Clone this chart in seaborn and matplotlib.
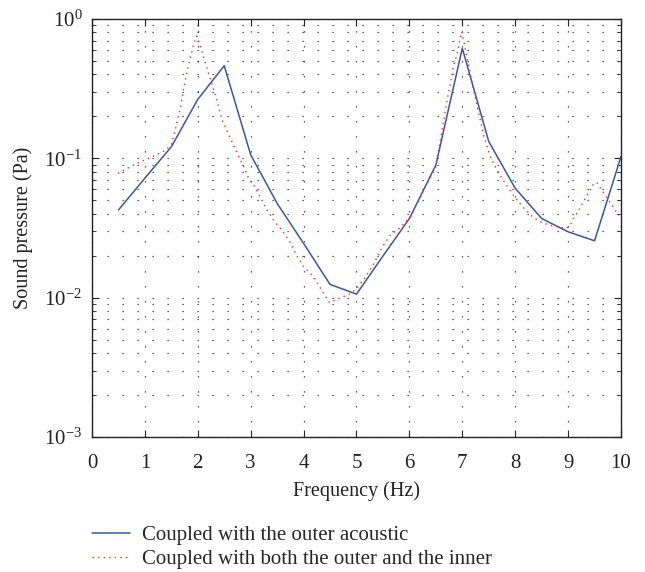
import numpy as np
import pandas as pd
import seaborn as sns
import matplotlib
matplotlib.use("Agg")
from matplotlib import pyplot as plt
from matplotlib.ticker import LogLocator, LogFormatterMathtext, NullFormatter

# data
freq_outer = [0.5, 1.0, 1.5, 2.0, 2.5, 3.0, 3.5, 4.0, 4.5, 5.0,
              5.5, 6.0, 6.5, 7.0, 7.5, 8.0, 8.5, 9.0, 9.5, 10.0]
sp_outer = [0.0426, 0.072, 0.121, 0.265, 0.462, 0.106, 0.0475, 0.0245, 0.01245, 0.0106,
            0.0199, 0.037, 0.0895, 0.616, 0.132, 0.061, 0.037, 0.0297, 0.0256, 0.103]

freq_both = [0.49, 0.82, 1.17, 1.40, 1.50, 1.58, 1.67, 1.73, 1.79, 1.86, 1.93, 1.98,
             2.03, 2.10, 2.14, 2.20, 2.29, 2.36, 2.46, 2.56, 2.66, 2.77, 2.87, 2.96,
             3.06, 3.31, 3.43, 3.59, 3.74, 3.88, 4.00, 4.16, 4.29, 4.38, 4.49, 4.60,
             4.73, 4.89, 5.01, 5.17, 5.33, 5.49, 5.64, 5.83, 6.02, 6.21, 6.37, 6.50,
             6.59, 6.65, 6.72, 6.78, 6.84, 6.91, 6.96, 6.99, 7.03, 7.08, 7.15, 7.22,
             7.29, 7.35, 7.41, 7.48, 7.54, 7.66, 7.79, 7.92, 8.04, 8.17, 8.33, 8.48,
             8.64, 8.80, 8.96, 9.04, 9.10, 9.17, 9.23, 9.29, 9.36, 9.42, 9.48, 9.54,
             9.61, 9.68, 9.75, 9.82, 9.89, 9.96]
sp_both = [0.078, 0.091, 0.104, 0.115, 0.125, 0.164, 0.229, 0.31, 0.41, 0.53, 0.67, 0.755,
           0.67, 0.55, 0.49, 0.41, 0.32, 0.26, 0.188, 0.155, 0.128, 0.104, 0.087, 0.072,
           0.064, 0.0426, 0.036, 0.0305, 0.0252, 0.0197, 0.0167, 0.0145, 0.0122, 0.0107, 0.0092, 0.0096,
           0.0101, 0.0107, 0.0117, 0.0141, 0.0176, 0.0232, 0.0281, 0.032, 0.038, 0.053, 0.070, 0.087,
           0.139, 0.19, 0.27, 0.355, 0.468, 0.58, 0.726, 0.81, 0.687, 0.55, 0.41, 0.30,
           0.228, 0.183, 0.143, 0.118, 0.10, 0.082, 0.068, 0.0575, 0.050, 0.0437, 0.038, 0.035,
           0.0332, 0.0323, 0.0314, 0.033, 0.037, 0.0407, 0.0445, 0.0489, 0.0545, 0.0598, 0.0654, 0.0673,
           0.0615, 0.056, 0.0508, 0.047, 0.0426, 0.039]

labels = ["Coupled with the outer acoustic",
          "Coupled with both the outer and the inner"]

sns.set_style("ticks")
plt.rcParams["font.family"] = ["Liberation Serif", "DejaVu Serif"]
plt.rcParams["mathtext.fontset"] = "stix"

fig = plt.figure(figsize=(6.45, 5.72), dpi=100)
ax = fig.add_axes([0.1426, 0.236, 0.8202, 0.7308])

df_outer = pd.DataFrame({"f": freq_outer, "p": sp_outer})
df_both = pd.DataFrame({"f": freq_both, "p": sp_both})

sns.lineplot(data=df_outer, x="f", y="p", ax=ax, color="#3a57a7", lw=1.1,
             estimator=None, label=labels[0])
sns.lineplot(data=df_both, x="f", y="p", ax=ax, color="#ff2a2a", lw=1.0,
             linestyle=(0, (1, 3)), estimator=None, label=labels[1])

ax.set_yscale("log")
ax.set_xlim(0, 10)
ax.set_ylim(1e-3, 1)
ax.set_xticks(range(0, 11))
ax.yaxis.set_major_locator(LogLocator(base=10))
ax.yaxis.set_major_formatter(LogFormatterMathtext())
ax.yaxis.set_minor_locator(LogLocator(base=10, subs=np.arange(2, 10)))
ax.yaxis.set_minor_formatter(NullFormatter())

# matlab-like dotted grid
grid_style = dict(color="black", linestyle=(0, (1, 11)), lw=0.9, alpha=0.8)
ax.grid(True, which="major", axis="both", **grid_style)
ax.grid(True, which="minor", axis="y", **grid_style)

for s in ax.spines.values():
    s.set_visible(True)
    s.set_color("#222222")
    s.set_linewidth(1.0)
ax.tick_params(which="both", direction="in", top=True, right=True, colors="#222222",
               labelsize=15, labelcolor="#222222")
ax.tick_params(which="major", length=5)
ax.tick_params(which="minor", length=3)
ax.tick_params(axis="x", pad=12)
ax.tick_params(axis="y", pad=7)

ax.set_xlabel("Frequency (Hz)", fontsize=14.5, color="#222222", labelpad=6)
ax.set_ylabel("Sound pressure (Pa)", fontsize=14.5, color="#222222", labelpad=8)

handles, labs = ax.get_legend_handles_labels()
ax.get_legend().remove()
fig.legend(handles, labs, loc="upper left", bbox_to_anchor=(0.143, 0.081),
           frameon=False, fontsize=15, handlelength=1.8, handletextpad=0.6,
           labelspacing=0.2, borderpad=0, borderaxespad=0)

fig.savefig("out.png", dpi=100)
